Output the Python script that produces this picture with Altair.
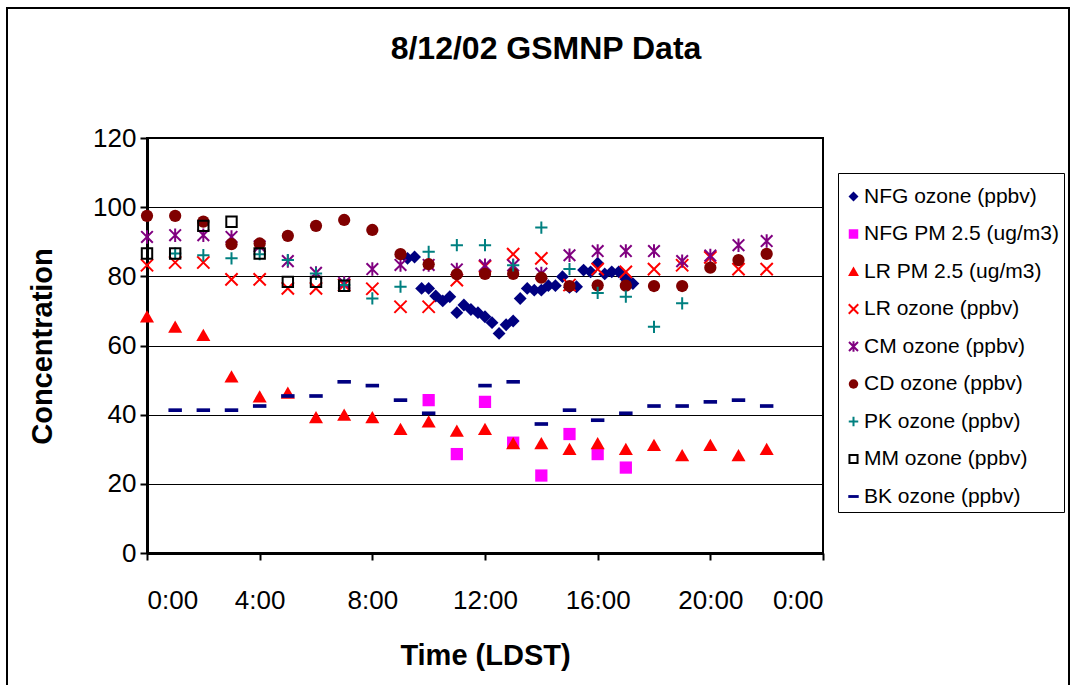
import altair as alt
import pandas as pd

FONT = "Liberation Sans"

series_names = [
    "NFG ozone (ppbv)",
    "NFG PM 2.5 (ug/m3)",
    "LR PM 2.5 (ug/m3)",
    "LR ozone (ppbv)",
    "CM ozone (ppbv)",
    "CD ozone (ppbv)",
    "PK ozone (ppbv)",
    "MM ozone (ppbv)",
    "BK ozone (ppbv)",
]

hours = list(range(0, 23))

nfg_times = ["9:15", "9:30", "9:45", "10:00", "10:15", "10:30", "10:45", "11:00",
             "11:15", "11:30", "11:45", "12:00", "12:15", "12:30", "12:45", "13:00",
             "13:15", "13:30", "13:45", "14:00", "14:15", "14:30", "14:45", "15:00",
             "15:15", "15:30", "15:45", "16:00", "16:15", "16:30", "16:45", "17:00",
             "17:15"]
nfg_ozone = [85.2, 85.6, 76.5, 76.5, 74.3, 72.9, 74.1, 69.5, 71.7, 70.4, 69.5, 68.3,
             66.6, 63.5, 66.0, 67.1, 73.6, 76.5, 76.0, 76.0, 77.3, 77.3, 79.9, 76.8,
             77.0, 81.8, 81.3, 83.8, 80.7, 81.3, 81.3, 79.2, 77.9]

nfg_pm_hours = [10, 11, 12, 13, 14, 15, 16, 17]
nfg_pm = [44.2, 28.6, 43.7, 31.9, 22.4, 34.4, 28.6, 24.7]

lr_pm = [68.3, 65.4, 63.0, 51.0, 45.2, 46.3, 39.2, 39.9, 39.2, 35.8, 38.0, 35.3,
         35.8, 31.7, 31.7, 30.0, 31.7, 30.0, 31.2, 28.2, 31.2, 28.2, 30.0]
lr_ozone = [83.2, 84.0, 84.0, 79.1, 79.1, 76.5, 76.5, 77.5, 76.4, 71.2, 71.2, 78.9,
            82.9, 86.4, 85.2, 77.5, 82.1, 81.3, 82.1, 83.2, 85.5, 82.1, 82.1]
cm_ozone = [91.4, 91.9, 91.9, 91.4, 88.7, 84.4, 81.0, 78.1, 82.1, 83.3, 83.3, 82.0,
            83.2, 83.2, 80.8, 86.1, 87.3, 87.3, 87.3, 84.4, 86.0, 89.0, 90.2]
cd_ozone = [97.5, 97.5, 95.8, 89.3, 89.5, 91.7, 94.6, 96.3, 93.4, 86.4, 83.5, 80.6,
            80.7, 80.7, 79.6, 77.2, 77.4, 77.3, 77.2, 77.2, 82.5, 84.7, 86.5]
pk_ozone = [None, 86.6, 86.1, 85.2, 86.4, 84.7, 80.8, 77.5, 73.6, 77.0, 87.1, 89.0,
            89.0, 83.2, 94.1, 82.1, 75.2, 74.1, 65.4, 72.2, None, None, None]
mm_ozone = [86.6, 86.6, 94.6, 95.8, 86.6, 78.4, 78.4, 77.3, None, None, None, None,
            None, None, None, None, None, None, None, None, None, None, None]
bk_ozone = [None, 41.3, 41.3, 41.3, 42.5, 45.4, 45.4, 49.5, 48.4, 44.2, 40.4, None,
            48.4, 49.5, 37.3, 41.3, 38.4, 40.4, 42.5, 42.5, 43.7, 44.2, 42.5]

x_tick_values = [0, 4, 8, 12, 16, 20, 24]
y_tick_values = [0, 20, 40, 60, 80, 100, 120]


def to_hours(s):
    h, m = s.split(":")
    return int(h) + int(m) / 60.0


rows = []
for t, v in zip(nfg_times, nfg_ozone):
    rows.append({"series": series_names[0], "time": to_hours(t), "value": v})
for t, v in zip(nfg_pm_hours, nfg_pm):
    rows.append({"series": series_names[1], "time": t, "value": v})
for name, vals in zip(series_names[2:],
                      [lr_pm, lr_ozone, cm_ozone, cd_ozone, pk_ozone, mm_ozone, bk_ozone]):
    for t, v in zip(hours, vals):
        if v is not None:
            rows.append({"series": name, "time": t, "value": v})

df = pd.DataFrame(rows)
df["idx"] = range(len(df))

shape_range = [
    "M0,-1.05L1.05,0L0,1.05L-1.05,0Z",
    "square",
    "M0,-1.05L1.15,0.95L-1.15,0.95Z",
    "M-1,-1L1,1M-1,1L1,-1",
    "M-0.95,-0.95L0.95,0.95M-0.95,0.95L0.95,-0.95M0,-1.1L0,1.1",
    "circle",
    "M-1,0L1,0M0,-1L0,1",
    "M-0.85,-0.85L0.85,-0.85L0.85,0.85L-0.85,0.85Z",
    "M-1.1,-0.3L1.1,-0.3L1.1,0.3L-1.1,0.3Z",
]
fill_range = ["#000080", "#FF00FF", "#FF0000", "transparent", "transparent",
              "#800000", "transparent", "transparent", "#000080"]
stroke_range = ["transparent", "transparent", "transparent", "#FF0000", "#800080",
                "transparent", "#008080", "#000000", "transparent"]

legend = alt.Legend(
    orient="none", legendX=691, legendY=35,
    title=" ", titleFontSize=6, titlePadding=2,
    labelFontSize=21, labelFont=FONT, labelColor="black",
    symbolSize=90, symbolStrokeWidth=2, labelOffset=0,
    rowPadding=15.5, padding=5, strokeColor="black", fillColor="white",
    labelLimit=400,
)

points = alt.Chart(df).mark_point(size=150, strokeWidth=2, opacity=1).encode(
    x=alt.X("time:Q", scale=alt.Scale(domain=[0, 24], nice=False),
            axis=alt.Axis(values=x_tick_values, grid=False,
                          labelExpr="floor(datum.value % 24) + ':00'",
                          title="Time (LDST)", titleY=102, titleBaseline="middle",
                          labelPadding=40, labelBaseline="middle")),
    y=alt.Y("value:Q", scale=alt.Scale(domain=[0, 120], nice=False),
            axis=alt.Axis(values=y_tick_values, grid=True,
                          title="Concentration", titleX=-105, titleY=208,
                          titleAngle=-90, titleBaseline="middle", titleAlign="center",
                          labelPadding=4)),
    shape=alt.Shape("series:N", scale=alt.Scale(domain=series_names, range=shape_range),
                    legend=legend),
    fill=alt.Fill("series:N", scale=alt.Scale(domain=series_names, range=fill_range),
                  legend=legend),
    stroke=alt.Stroke("series:N", scale=alt.Scale(domain=series_names, range=stroke_range),
                      legend=legend),
    order=alt.Order("idx:Q"),
)

frame = alt.Chart(df).mark_rect(fill="transparent", stroke="black", strokeWidth=2).encode(
    x=alt.value(-140), x2=alt.value(922), y=alt.value(-130), y2=alt.value(560)
)

chart = alt.layer(frame, points).properties(
    width=676, height=415,
    autosize=alt.AutoSizeParams(type="none"),
    padding={"left": 147, "top": 138, "right": 255, "bottom": 132},
    title=alt.TitleParams("8/12/02 GSMNP Data", fontSize=32, fontWeight="bold",
                          font=FONT, color="black", anchor="middle", frame="group",
                          dx=61, dy=59, offset=0),
    background="white",
).configure_view(
    stroke="black", strokeWidth=2
).configure_axis(
    labelFont=FONT, labelFontSize=26, labelColor="black",
    titleFont=FONT, titleFontSize=29, titleFontWeight="bold", titleColor="black",
    domainColor="black", domainWidth=3, tickColor="black", tickWidth=2, tickSize=7,
    gridColor="black", gridWidth=1, gridOpacity=1,
)

chart.save("out.html", embed_options={"renderer": "svg", "actions": False})
